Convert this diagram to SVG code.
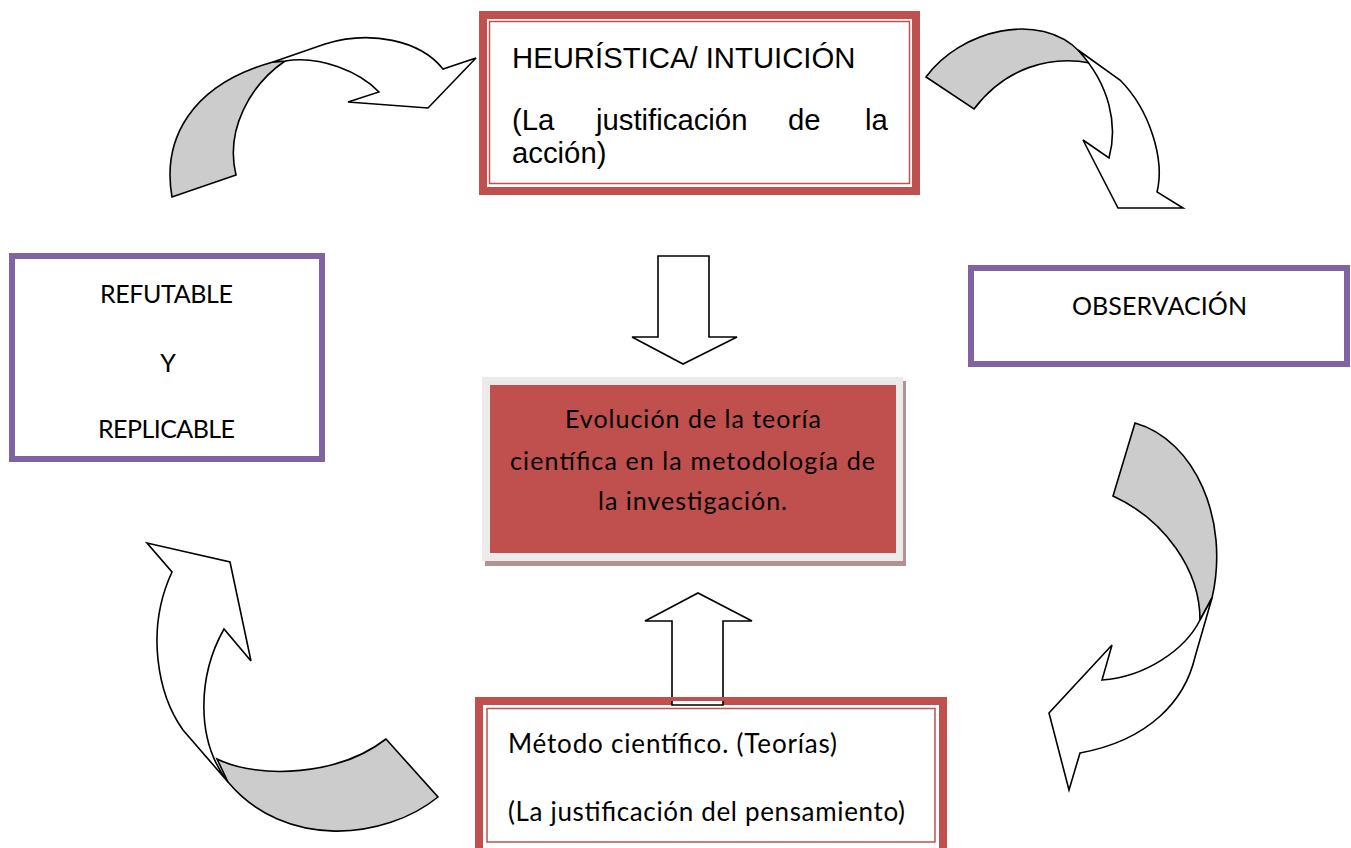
<svg xmlns="http://www.w3.org/2000/svg" width="1351" height="848" viewBox="0 0 1351 848">
<style>
.bg{fill:#ffffff}
.thick{fill:#ffffff;stroke:#C0504D;stroke-width:8}
.thin{fill:none;stroke:#C0504D;stroke-width:1.5}
.purple{fill:#ffffff;stroke:#8064A2;stroke-width:6}
.arw{fill:#ffffff;stroke:#000000;stroke-width:1.6;stroke-linejoin:miter}
.back{fill:#CCCCCC;stroke:#000000;stroke-width:1.6}
.ar{font-family:"Liberation Sans",Arial,sans-serif;font-size:29.3px;fill:#000000}
.ca{font-family:Lato,"Open Sans",sans-serif;fill:#000000}
</style>
<rect class="bg" x="0" y="0" width="1351" height="848"/>

<g id="connectors">
  <g id="arrow-top-left">
    <path class="back" d="M172,197 C162,140 190,85 273,62 L285,61 C250,85 225,130 236,175 Z"/>
    <path class="arw" d="M273,62 L325,44 C370,30 420,40 443,69 L476,58 L428,108 L348,102 L379,92 C360,72 320,55 285,61 Z"/>
  </g>
  <g id="arrow-top-right">
    <path class="back" d="M926,77 C960,30 1040,10 1080,52 L1090,63 C1050,55 1005,68 974,109 Z"/>
    <path class="arw" d="M1078,50 L1120,80 C1150,110 1165,160 1157,192 L1183,208 L1118,208 L1083,140 L1109,158 C1118,125 1110,85 1078,50 Z"/>
  </g>
  <g id="arrow-bottom-right">
    <path class="back" d="M1135,423 C1195,440 1230,520 1212,598 L1200,620 C1200,570 1165,520 1113,496 Z"/>
    <path class="arw" d="M1212,598 L1195,657 C1185,700 1150,740 1080,753 L1069,790 L1049,713 L1112,645 L1102,680 C1145,677 1185,650 1200,620 Z"/>
  </g>
  <g id="arrow-bottom-left">
    <path class="arw" d="M228,782 L183,730 C158,695 145,630 172,572 L147,543 L230,562 L251,661 L224,629 C198,675 195,740 228,782 Z"/>
    <path class="back" d="M217,759 C260,780 340,775 386,739 L438,797 C385,840 285,850 228,782 Z"/>
  </g>
  <path id="arrow-down" class="arw" d="M658,256 L709,256 L709,337 L737,337 L683,364 L632,337 L658,337 Z"/>
</g>

<g id="node-heuristica">
  <rect class="thick" x="483" y="15" width="433" height="176"/>
  <rect class="thin" x="489.5" y="21.5" width="420" height="162"/>
  <text class="ar" x="512" y="68">HEURÍSTICA/ INTUICIÓN</text>
  <text class="ar" y="130"><tspan x="512">(La</tspan><tspan x="596">justificación</tspan><tspan x="788">de</tspan><tspan x="865">la</tspan></text>
  <text class="ar" x="512" y="163">acción)</text>
</g>

<g id="node-refutable">
  <rect class="purple" x="12" y="256" width="310" height="203"/>
  <text class="ca" font-size="25" x="166.5" y="303" text-anchor="middle" textLength="133">REFUTABLE</text>
  <text class="ca" font-size="25" x="168" y="372" text-anchor="middle">Y</text>
  <text class="ca" font-size="25" x="166.5" y="438" text-anchor="middle" textLength="137">REPLICABLE</text>
</g>

<g id="node-observacion">
  <rect class="purple" x="971" y="268" width="376" height="96"/>
  <text class="ca" font-size="25" x="1159.5" y="315" text-anchor="middle" textLength="175">OBSERVACIÓN</text>
</g>

<g id="node-evolucion">
  <rect x="485" y="381" width="421" height="185" fill="#B09292"/>
  <rect x="482" y="377" width="421" height="184" fill="#EBEBEB"/>
  <rect x="490" y="385" width="406" height="168" fill="#C0504D"/>
  <text class="ca" font-size="25" x="693" y="428" text-anchor="middle" textLength="256">Evolución de la teoría</text>
  <text class="ca" font-size="25" x="692.5" y="470" text-anchor="middle" textLength="365">científica en la metodología de</text>
  <text class="ca" font-size="25" x="692.5" y="510" text-anchor="middle" textLength="189">la investigación.</text>
</g>

<path id="arrow-up" class="arw" d="M672,703 L672,621 L645,621 L698,593 L752,621 L723,621 L723,703 Z"/>

<g id="node-metodo">
  <rect class="thick" x="479" y="701" width="464" height="152"/>
  <rect class="thin" x="487" y="708.5" width="448" height="133.5"/>
  <path class="arw" d="M672,701 L672,705 L723,705 L723,701" fill="none"/>
  <text class="ca" font-size="26" x="508" y="753" textLength="329">Método científico. (Teorías)</text>
  <text class="ca" font-size="26" x="508" y="821" textLength="397">(La justificación del pensamiento)</text>
</g>
</svg>
